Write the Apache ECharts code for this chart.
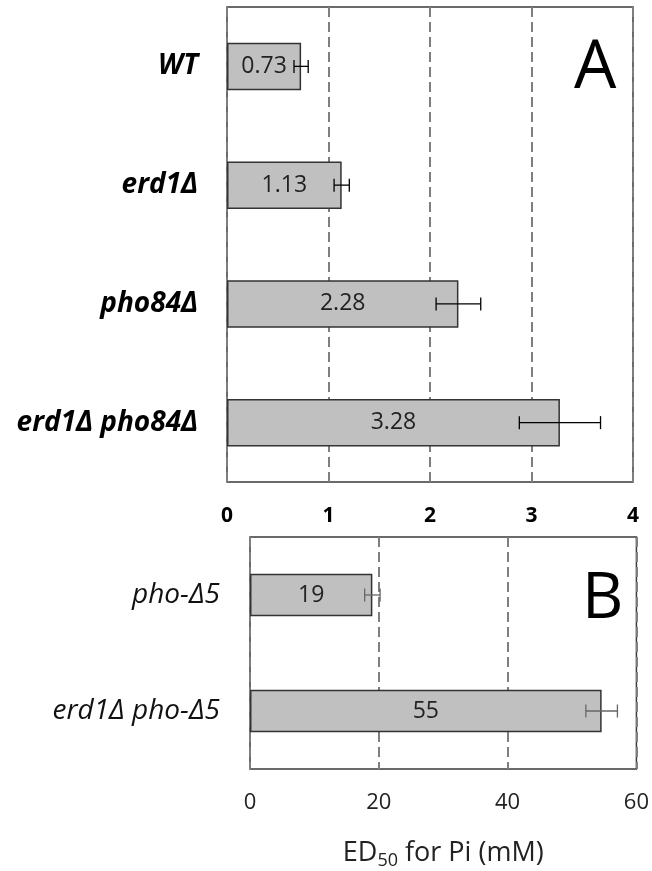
<!DOCTYPE html>
<html>
<head>
<meta charset="utf-8">
<script src="https://cdn.jsdelivr.net/npm/echarts@6/dist/echarts.min.js"></script>
<style>html,body{margin:0;padding:0;background:#fff}#c{width:652px;height:871px}</style>
</head>
<body>
<div id="c"></div>
<script>
// Panel A data
const catsA = ['WT', 'erd1Δ', 'pho84Δ', 'erd1Δ pho84Δ'];
const valsA = [0.73, 1.13, 2.28, 3.28];
const errA = [0.07, 0.075, 0.22, 0.40];
const ticksA = [0, 1, 2, 3, 4];
// Panel B data
const catsB = ['pho-Δ5', 'erd1Δ pho-Δ5'];
const valsB = [19, 54.6];
const labelsB = ['19', '55'];
const errB = [1.2, 2.45];
const ticksB = [0, 20, 40, 60];

const FONT = '"Open Sans"';
const chart = echarts.init(document.getElementById('c'), null, {renderer: 'canvas'});

function errItem(color, cap) {
  return function (params, api) {
    const v = api.value(1), e = api.value(2), idx = api.value(0);
    const p1 = api.coord([v - e, idx]);
    const p2 = api.coord([v + e, idx]);
    const st = {stroke: color, lineWidth: 1.3};
    return {
      type: 'group',
      children: [
        {type: 'line', shape: {x1: p1[0], y1: p1[1], x2: p2[0], y2: p2[1]}, style: st},
        {type: 'line', shape: {x1: p1[0], y1: p1[1] - cap, x2: p1[0], y2: p1[1] + cap}, style: st},
        {type: 'line', shape: {x1: p2[0], y1: p2[1] - cap, x2: p2[0], y2: p2[1] + cap}, style: st}
      ]
    };
  };
}

const splitStyle = {show: true, lineStyle: {color: '#7f7f7f', width: 2, type: [10, 5]}};

const option = {
  animation: false,
  backgroundColor: '#fff',
  title: [
    {text: 'A', left: 569, top: 30, textStyle: {fontFamily: FONT, fontSize: 67, fontWeight: 'normal', color: '#000'}},
    {text: 'B', left: 577, top: 563, textStyle: {fontFamily: FONT, fontSize: 64, fontWeight: 'normal', color: '#000'}}
  ],
  grid: [
    {left: 227, top: 7, width: 406, height: 475, show: true, borderColor: '#3a3a3a', borderWidth: 1.5, backgroundColor: 'transparent'},
    {left: 250, top: 537, width: 387, height: 235, show: true, borderColor: '#3a3a3a', borderWidth: 1.5, backgroundColor: 'transparent'}
  ],
  xAxis: [
    {
      type: 'value', gridIndex: 0, min: ticksA[0], max: ticksA[ticksA.length - 1], interval: 1,
      axisLine: {show: false}, axisTick: {show: false},
      axisLabel: {margin: 24, fontFamily: FONT, fontSize: 21, fontWeight: 'bold', color: '#000'},
      splitLine: splitStyle
    },
    {
      type: 'value', gridIndex: 1, min: ticksB[0], max: ticksB[ticksB.length - 1], interval: 20,
      axisLine: {show: false}, axisTick: {show: false},
      axisLabel: {margin: 23, fontFamily: FONT, fontSize: 22, color: '#222'},
      splitLine: splitStyle,
      name: '{a|ED}{s|50}{a| for Pi (mM)}',
      nameLocation: 'middle', nameGap: 68,
      nameTextStyle: {
        rich: {
          a: {fontFamily: FONT, fontSize: 27, color: '#222'},
          s: {fontFamily: FONT, fontSize: 18, color: '#222', padding: [15, 0, 0, 0]}
        }
      }
    }
  ],
  yAxis: [
    {
      type: 'category', gridIndex: 0, data: catsA, inverse: true,
      axisLine: {show: false}, axisTick: {show: false},
      axisLabel: {margin: 29, fontFamily: FONT, fontSize: 28, fontWeight: 'bold', fontStyle: 'italic', color: '#000'}
    },
    {
      type: 'category', gridIndex: 1, data: catsB, inverse: true,
      axisLine: {show: false}, axisTick: {show: false},
      axisLabel: {margin: 30, fontFamily: FONT, fontSize: 28, fontStyle: 'italic', color: '#111'}
    }
  ],
  series: [
    {
      type: 'bar', xAxisIndex: 0, yAxisIndex: 0, data: valsA, barWidth: 47.5,
      itemStyle: {color: '#c0c0c0', borderColor: '#333', borderWidth: 1.5},
      label: {show: true, position: 'inside', fontFamily: FONT, fontSize: 23, color: '#222',
        formatter: p => valsA[p.dataIndex].toFixed(2)},
      z: 2
    },
    {
      type: 'custom', xAxisIndex: 0, yAxisIndex: 0,
      data: valsA.map((v, i) => [i, v, errA[i]]),
      encode: {x: 1, y: 0},
      renderItem: errItem('#000', 6.5), z: 5
    },
    {
      type: 'bar', xAxisIndex: 1, yAxisIndex: 1, data: valsB, barWidth: 42.5,
      itemStyle: {color: '#c0c0c0', borderColor: '#333', borderWidth: 1.5},
      label: {show: true, position: 'inside', fontFamily: FONT, fontSize: 23, color: '#222',
        formatter: p => labelsB[p.dataIndex]},
      z: 2
    },
    {
      type: 'custom', xAxisIndex: 1, yAxisIndex: 1,
      data: valsB.map((v, i) => [i, v, errB[i]]),
      encode: {x: 1, y: 0},
      renderItem: errItem('#666', 6.5), z: 5
    }
  ]
};
chart.setOption(option);
</script>
</body>
</html>
